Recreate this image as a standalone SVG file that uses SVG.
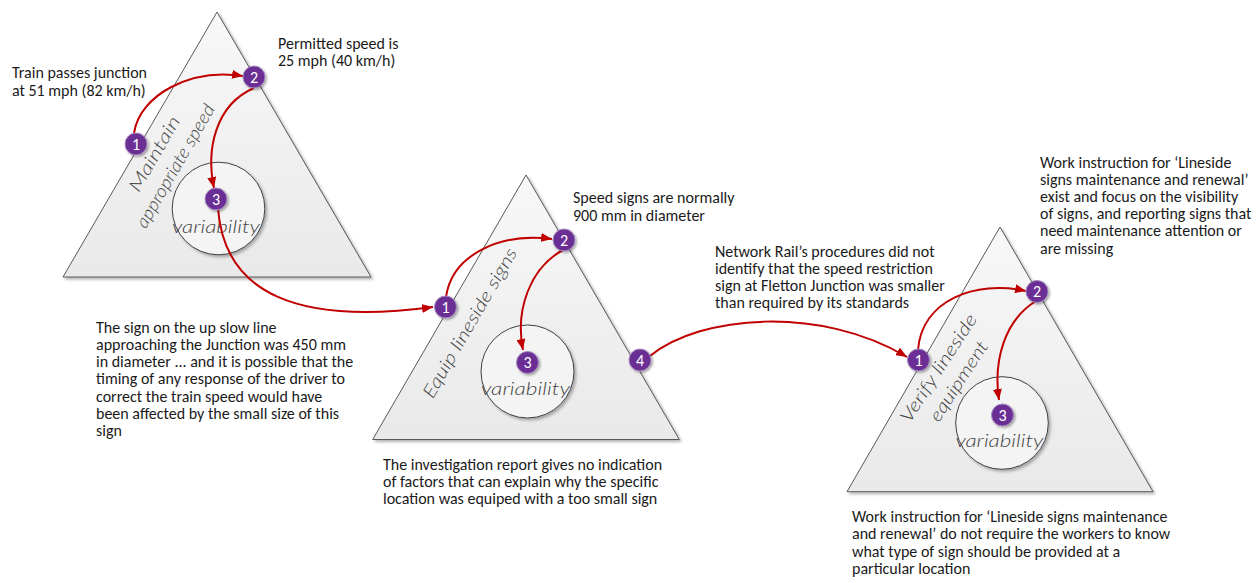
<svg xmlns="http://www.w3.org/2000/svg" width="1259" height="583" viewBox="0 0 1259 583">
<style>
.tri{fill:url(#triGrad);stroke:#595959;stroke-width:1;filter:url(#shadow)}
.circ{fill:#f4f4f4;stroke:#404040;stroke-width:1;filter:url(#shadow)}
.hand{font-family:"Segoe Print",Lato,"DejaVu Sans",sans-serif;font-style:italic;font-weight:300;fill:#454545}
.var{font-size:18px;text-anchor:middle}
.lab{font-size:18px;text-anchor:middle}
.note{font-family:Carlito,Calibri,Lato,"Liberation Sans",sans-serif;font-size:16px;fill:#1a1a1a}
.conn{fill:none;stroke:#c00000;stroke-width:2;marker-end:url(#arr)}
.badge circle{fill:#6b2d94;stroke:#a58cc0;stroke-width:1;filter:url(#bshadow)}
.badge text{font-family:Carlito,Calibri,Lato,"Liberation Sans",sans-serif;font-size:16px;fill:#fff;text-anchor:middle}
</style>
<defs>
<linearGradient id="triGrad" x1="0" y1="0" x2="0" y2="1">
<stop offset="0" stop-color="#f8f8f8"/>
<stop offset="1" stop-color="#e9e9e9"/>
</linearGradient>
<filter id="shadow" x="-10%" y="-10%" width="130%" height="130%">
<feDropShadow dx="2" dy="2" stdDeviation="1.5" flood-color="#000" flood-opacity="0.3"/>
</filter>
<filter id="bshadow" x="-30%" y="-30%" width="160%" height="160%">
<feDropShadow dx="1.5" dy="1.5" stdDeviation="1" flood-color="#000" flood-opacity="0.35"/>
</filter>
<marker id="arr" markerUnits="userSpaceOnUse" markerWidth="11" markerHeight="9" refX="11" refY="4.5" orient="auto">
<path d="M0,0 L11,4.5 L0,9 z" fill="#c00000"/>
</marker>
</defs>

<g id="triangle1">
<polygon class="tri" points="217,12 63,277 371,277"/>
<circle class="circ" cx="218.5" cy="208.5" r="46.3"/>
<g class="hand lab" transform="translate(165,160) rotate(-60)">
<text x="0" y="-6" textLength="84" lengthAdjust="spacingAndGlyphs">Maintain</text>
<text x="0" y="18" textLength="139" lengthAdjust="spacingAndGlyphs">appropriate speed</text>
</g>
<text class="hand var" x="216" y="233" textLength="88" lengthAdjust="spacingAndGlyphs">variability</text>
</g>

<g id="triangle2">
<polygon class="tri" points="526,175 372.7,439.5 679.3,439.5"/>
<circle class="circ" cx="527.5" cy="371.5" r="46.5"/>
<g class="hand lab" transform="translate(470,323) rotate(-60)">
<text x="0" y="6" textLength="170" lengthAdjust="spacingAndGlyphs">Equip lineside signs</text>
</g>
<text class="hand var" x="525.5" y="395" textLength="89" lengthAdjust="spacingAndGlyphs">variability</text>
</g>

<g id="triangle3">
<polygon class="tri" points="1000,227 847,491.7 1153,491.7"/>
<circle class="circ" cx="1002" cy="423" r="46.3"/>
<g class="hand lab" transform="translate(948.7,374.6) rotate(-57)">
<text x="0" y="-6" textLength="125" lengthAdjust="spacingAndGlyphs">Verify lineside</text>
<text x="0" y="18" textLength="92" lengthAdjust="spacingAndGlyphs">equipment</text>
</g>
<text class="hand var" x="999.4" y="446.7" textLength="88" lengthAdjust="spacingAndGlyphs">variability</text>
</g>

<g id="connectors">
<path class="conn" d="M134,133 C140,95 190,68 243,76"/>
<path class="conn" d="M254,88 C215,105 206,150 214,188"/>
<path class="conn" d="M218,208 C224,295 300,325 433,307"/>
<path class="conn" d="M446,297 C452,255 500,232 552,239"/>
<path class="conn" d="M563,250 C530,268 515,310 523,350"/>
<path class="conn" d="M650,356 C700,315 820,305 907,357"/>
<path class="conn" d="M918,350 C922,300 975,280 1026,291"/>
<path class="conn" d="M1036,301 C1005,320 993,360 999,400"/>
</g>

<g id="t1-badge1" class="badge"><circle cx="136" cy="144" r="11"/><text x="136" y="149.5">1</text></g>
<g id="t1-badge2" class="badge"><circle cx="254" cy="77" r="11"/><text x="254" y="82.5">2</text></g>
<g id="t1-badge3" class="badge"><circle cx="216" cy="199" r="11"/><text x="216" y="204.5">3</text></g>
<g id="t2-badge1" class="badge"><circle cx="445.5" cy="307" r="11"/><text x="445.5" y="312.5">1</text></g>
<g id="t2-badge2" class="badge"><circle cx="564" cy="240" r="11"/><text x="564" y="245.5">2</text></g>
<g id="t2-badge3" class="badge"><circle cx="527.5" cy="362.5" r="11"/><text x="527.5" y="368">3</text></g>
<g id="t2-badge4" class="badge"><circle cx="640" cy="360" r="11"/><text x="640" y="365.5">4</text></g>
<g id="t3-badge1" class="badge"><circle cx="918.5" cy="360" r="11"/><text x="918.5" y="365.5">1</text></g>
<g id="t3-badge2" class="badge"><circle cx="1037" cy="291.5" r="11"/><text x="1037" y="297">2</text></g>
<g id="t3-badge3" class="badge"><circle cx="1002.5" cy="415" r="11"/><text x="1002.5" y="420.5">3</text></g>

<g id="note-train" class="note">
<text x="12" y="78">Train passes junction</text>
<text x="12" y="95.5">at 51 mph (82 km/h)</text>
</g>
<g id="note-permitted" class="note">
<text x="278" y="48.5">Permitted speed is</text>
<text x="278" y="66">25 mph (40 km/h)</text>
</g>
<g id="note-signsize" class="note">
<text x="96" y="332.5">The sign on the up slow line</text>
<text x="96" y="349.8">approaching the Junction was 450 mm</text>
<text x="96" y="367.1">in diameter ... and it is possible that the</text>
<text x="96" y="384.4">timing of any response of the driver to</text>
<text x="96" y="401.7">correct the train speed would have</text>
<text x="96" y="419">been affected by the small size of this</text>
<text x="96" y="436.3">sign</text>
</g>
<g id="note-normal" class="note">
<text x="573" y="203.3">Speed signs are normally</text>
<text x="573" y="220.5">900 mm in diameter</text>
</g>
<g id="note-investigation" class="note">
<text x="383" y="469.5">The investigation report gives no indication</text>
<text x="383" y="486.8">of factors that can explain why the specific</text>
<text x="383" y="504">location was equiped with a too small sign</text>
</g>
<g id="note-networkrail" class="note">
<text x="715" y="256.5">Network Rail’s procedures did not</text>
<text x="715" y="273.8">identify that the speed restriction</text>
<text x="715" y="291">sign at Fletton Junction was smaller</text>
<text x="715" y="308.3">than required by its standards</text>
</g>
<g id="note-workinstr1" class="note">
<text x="1040" y="168.3">Work instruction for ‘Lineside</text>
<text x="1040" y="185.3">signs maintenance and renewal’</text>
<text x="1040" y="202.3">exist and focus on the visibility</text>
<text x="1040" y="219.3">of signs, and reporting signs that</text>
<text x="1040" y="236.3">need maintenance attention or</text>
<text x="1040" y="254">are missing</text>
</g>
<g id="note-workinstr2" class="note">
<text x="852" y="522">Work instruction for ‘Lineside signs maintenance</text>
<text x="852" y="539.3">and renewal’ do not require the workers to know</text>
<text x="852" y="556.6">what type of sign should be provided at a</text>
<text x="852" y="573.9">particular location</text>
</g>
</svg>
